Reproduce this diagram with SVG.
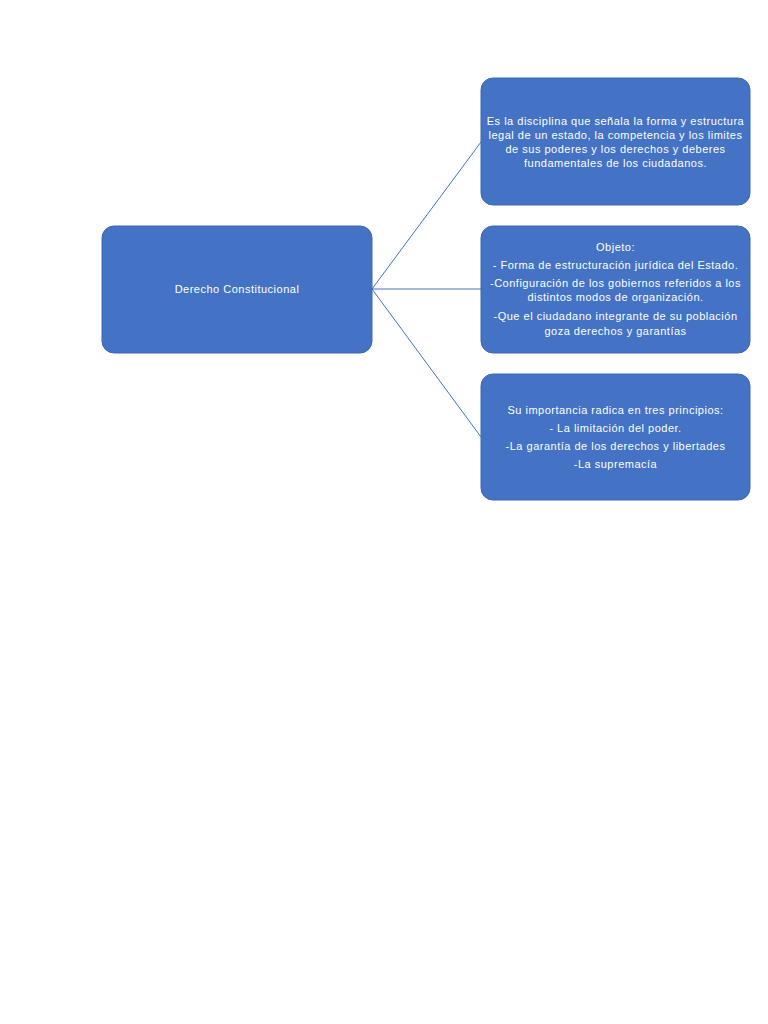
<svg xmlns="http://www.w3.org/2000/svg" width="768" height="1024" viewBox="0 0 768 1024">
<style>
.box{fill:#4472C4;stroke:#3A66B5;stroke-width:1}
.t{font-family:"Liberation Sans",Arial,sans-serif;font-size:11px;letter-spacing:0.5px;fill:#FFFFFF;text-anchor:middle}
.c{stroke:#4472C4;stroke-width:1;fill:none}
</style>
<rect width="768" height="1024" fill="#FFFFFF"/>
<g id="connectors">
<line class="c" x1="372" y1="289" x2="481" y2="142"/>
<line class="c" x1="372" y1="289" x2="481" y2="289"/>
<line class="c" x1="372" y1="289" x2="481" y2="437"/>
</g>
<g id="root">
<rect class="box" x="102" y="226" width="270" height="127" rx="12"/>
<text class="t" x="237" y="293">Derecho Constitucional</text>
</g>
<g id="definicion">
<rect class="box" x="481" y="78" width="269" height="127" rx="12"/>
<text class="t" x="615.5" y="125">Es la disciplina que señala la forma y estructura</text>
<text class="t" x="615.5" y="139">legal de un estado, la competencia y los limites</text>
<text class="t" x="615.5" y="153">de sus poderes y los derechos y deberes</text>
<text class="t" x="615.5" y="167">fundamentales de los ciudadanos.</text>
</g>
<g id="objeto">
<rect class="box" x="481" y="226" width="269" height="127" rx="12"/>
<text class="t" x="615.5" y="251">Objeto:</text>
<text class="t" x="615.5" y="269">- Forma de estructuración jurídica del Estado.</text>
<text class="t" x="615.5" y="287">-Configuración de los gobiernos referidos a los</text>
<text class="t" x="615.5" y="301">distintos modos de organización.</text>
<text class="t" x="615.5" y="320">-Que el ciudadano integrante de su población</text>
<text class="t" x="615.5" y="335">goza derechos y garantías</text>
</g>
<g id="importancia">
<rect class="box" x="481" y="374" width="269" height="126" rx="12"/>
<text class="t" x="615.5" y="414">Su importancia radica en tres principios:</text>
<text class="t" x="615.5" y="432">- La limitación del poder.</text>
<text class="t" x="615.5" y="450">-La garantía de los derechos y libertades</text>
<text class="t" x="615.5" y="468">-La supremacía</text>
</g>
</svg>
